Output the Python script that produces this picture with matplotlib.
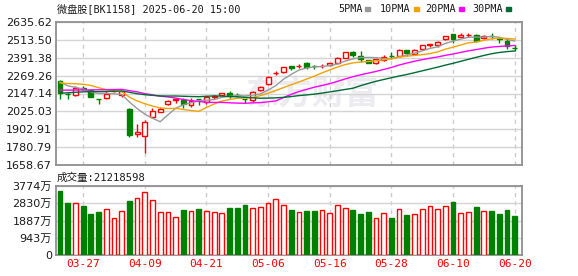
import matplotlib
matplotlib.use("Agg")
import matplotlib.pyplot as plt
import numpy as np
import pandas as pd

# --- data (微盘股 BK1158, daily) ---
holidays = ["2025-04-04", "2025-05-01", "2025-05-02", "2025-05-05",
            "2025-06-02"]
dates = pd.bdate_range("2025-03-24", "2025-06-20", freq="C",
                       holidays=holidays)

opens = [2233, 2146, 2137, 2187, 2172, 2109, 2115, 2163, 2140, 2042,
         1869, 1860, 1990, 2024, 2074, 2106, 2103, 2069, 2109, 2092,
         2121, 2140, 2153, 2139, 2109, 2103, 2168, 2211, 2284, 2292,
         2335, 2332, 2354, 2334, 2333, 2340, 2354, 2392, 2431, 2403,
         2376, 2358, 2376, 2404, 2406, 2445, 2417, 2453, 2481, 2479,
         2518, 2552, 2536, 2545, 2547, 2525, 2543, 2525, 2509, 2458]
highs = [2236, 2148, 2199, 2195, 2178, 2110, 2165, 2172, 2166, 2045,
         1940, 1967, 2047, 2056, 2102, 2112, 2115, 2115, 2112, 2131,
         2137, 2152, 2165, 2149, 2111, 2167, 2199, 2266, 2303, 2331,
         2338, 2347, 2359, 2344, 2349, 2358, 2395, 2433, 2436, 2440,
         2378, 2384, 2411, 2429, 2453, 2447, 2451, 2481, 2485, 2504,
         2543, 2554, 2558, 2558, 2552, 2548, 2558, 2535, 2523, 2480]
lows = [2110, 2108, 2133, 2168, 2122, 2074, 2112, 2158, 2126, 1853,
        1849, 1744, 1988, 2018, 2070, 2085, 2045, 2058, 2069, 2074,
        2108, 2136, 2117, 2124, 2079, 2092, 2163, 2208, 2274, 2289,
        2308, 2320, 2313, 2313, 2320, 2335, 2349, 2388, 2399, 2365,
        2354, 2349, 2372, 2381, 2399, 2404, 2413, 2449, 2467, 2467,
        2515, 2490, 2531, 2536, 2501, 2518, 2518, 2494, 2453, 2435]
closes = [2149, 2143, 2187, 2178, 2126, 2107, 2144, 2167, 2163, 1865,
          1885, 1951, 2028, 2042, 2099, 2108, 2074, 2096, 2107, 2124,
          2127, 2149, 2131, 2137, 2107, 2156, 2189, 2263, 2290, 2327,
          2320, 2336, 2331, 2332, 2338, 2354, 2388, 2429, 2408, 2385,
          2358, 2381, 2399, 2402, 2447, 2422, 2445, 2477, 2484, 2501,
          2540, 2520, 2547, 2549, 2506, 2542, 2540, 2522, 2470, 2455]
# closes before the window (estimated, only needed to seed the MAs)
prior_closes = [2060, 2075, 2090, 2085, 2100, 2110, 2120, 2115, 2130, 2185,
                2140, 2170, 2165, 2120, 2095, 2130, 2150, 2140, 2040, 2050,
                2190, 2200, 2215, 2206, 2262, 2270, 2245, 2228, 2235]
volume_wan = [3500, 2844, 2826, 2680, 2243, 2352, 2498, 2006, 2388, 2954,
              3100, 3428, 2990, 2334, 2334, 2060, 2461, 2388, 2516, 2388,
              2334, 2279, 2571, 2571, 2735, 2553, 2607, 2826, 3045, 2735,
              2461, 2334, 2407, 2407, 2443, 2279, 2717, 2553, 2461, 2243,
              2352, 2006, 2279, 2024, 2498, 2188, 2225, 2498, 2662, 2498,
              2662, 2899, 2279, 2334, 2626, 2388, 2407, 2243, 2461, 2122]
last_volume = 21218598

ma_periods = [5, 10, 20, 30]
ma_colors = ["#999999", "#f5a200", "#ff00ff", "#006b35"]

price_lo, price_hi = 1658.67, 2635.62
vol_hi = 3774

RED, GREEN = "#ff0000", "#008000"
CJK = ["DejaVu Sans", "Noto Sans CJK SC"]
MONO = ["DejaVu Sans Mono", "Noto Sans CJK SC"]

o = np.array(opens, float)
h = np.array(highs, float)
lo = np.array(lows, float)
c = np.array(closes, float)
x = np.arange(len(c))
up = c >= o
colors = np.where(up, RED, GREEN)
faces = np.where(up, "white", GREEN)

full = pd.Series(prior_closes + closes, dtype=float)
mas = {n: full.rolling(n).mean().to_numpy()[-len(c):] for n in ma_periods}

W, H = 578, 276
fig = plt.figure(figsize=(W / 100, H / 100), dpi=100)


def box(l, t, r, b):
    return [l / W, 1 - b / H, (r - l) / W, (b - t) / H]


ax = fig.add_axes(box(56, 22, 522, 165))
axv = fig.add_axes(box(56, 186, 522, 255))

xlim = (-0.52, len(c) - 0.05)
tick_idx = list(range(3, len(c), 8))
tick_lab = [dates[i].strftime("%m-%d") for i in tick_idx]

for a in (ax, axv):
    a.set_xlim(*xlim)
    for s in a.spines.values():
        s.set_color("#909090")
        s.set_linewidth(1.3)
    a.set_xticks(tick_idx)
    a.tick_params(length=0, pad=3)
    a.grid(axis="y", color="#d4d4d4", lw=1.0, zorder=0)
    a.grid(axis="x", color="#cccccc", lw=1.0, ls=(0, (3, 3)), zorder=0)
    a.set_axisbelow(True)

# watermark
ax.text(0.55, 0.49, "东方财富", transform=ax.transAxes, fontsize=24,
        fontweight="bold", color="#ebebf0", ha="center", va="center",
        family=CJK, style="italic", zorder=0)

# candles
ax.vlines(x, lo, h, colors=colors, lw=1.0, zorder=2)
body = np.maximum(np.abs(c - o), 0.8)
ax.bar(x, body, bottom=np.minimum(o, c), width=0.64, color=faces,
       edgecolor=colors, linewidth=1.0, zorder=3)
for n, col in zip(ma_periods, ma_colors):
    ax.plot(x, mas[n], color=col, lw=1.0, zorder=4)

yt = np.linspace(price_lo, price_hi, 9)
ax.set_ylim(price_lo, price_hi)
ax.set_yticks(yt)
ax.set_yticklabels([f"{v:.2f}" for v in yt], fontsize=8, color="#1a1a1a")
ax.set_xticklabels([])

# volume
axv.bar(x, volume_wan, width=0.62, color=faces, edgecolor=colors,
        linewidth=1.0, zorder=3)
vt = np.linspace(0, vol_hi, 5)
axv.set_ylim(0, vol_hi)
axv.set_yticks(vt)
axv.set_yticklabels(["0"] + [f"{int(v)}万" for v in vt[1:]], fontsize=8,
                    color="#1a1a1a", family=CJK)
axv.set_xticklabels(tick_lab, fontsize=8, color=RED, family=MONO)

# header texts
fig.text(57 / W, 1 - 9 / H, f"微盘股[BK1158] {dates[-1]:%Y-%m-%d} 15:00",
         fontsize=7.3, family=MONO, color="#1a1a1a", va="center")
fig.text(57 / W, 1 - 178 / H, f"成交量:{last_volume}", fontsize=7.6,
         family=MONO, color="#1a1a1a", va="center")

leg_x = [338, 380, 425, 472]
for n, col, lx in zip(ma_periods, ma_colors, leg_x):
    fig.text(lx / W, 1 - 9 / H, f"{n}PMA", fontsize=7.3, family=MONO,
             color="#1a1a1a", va="center")
    ln = len(f"{n}PMA") * 6.1
    fig.patches.append(plt.Rectangle(((lx + ln + 3) / W, 1 - 10.5 / H),
                                     5 / W, 3 / H, color=col,
                                     transform=fig.transFigure))

fig.savefig("out.png", dpi=100)
